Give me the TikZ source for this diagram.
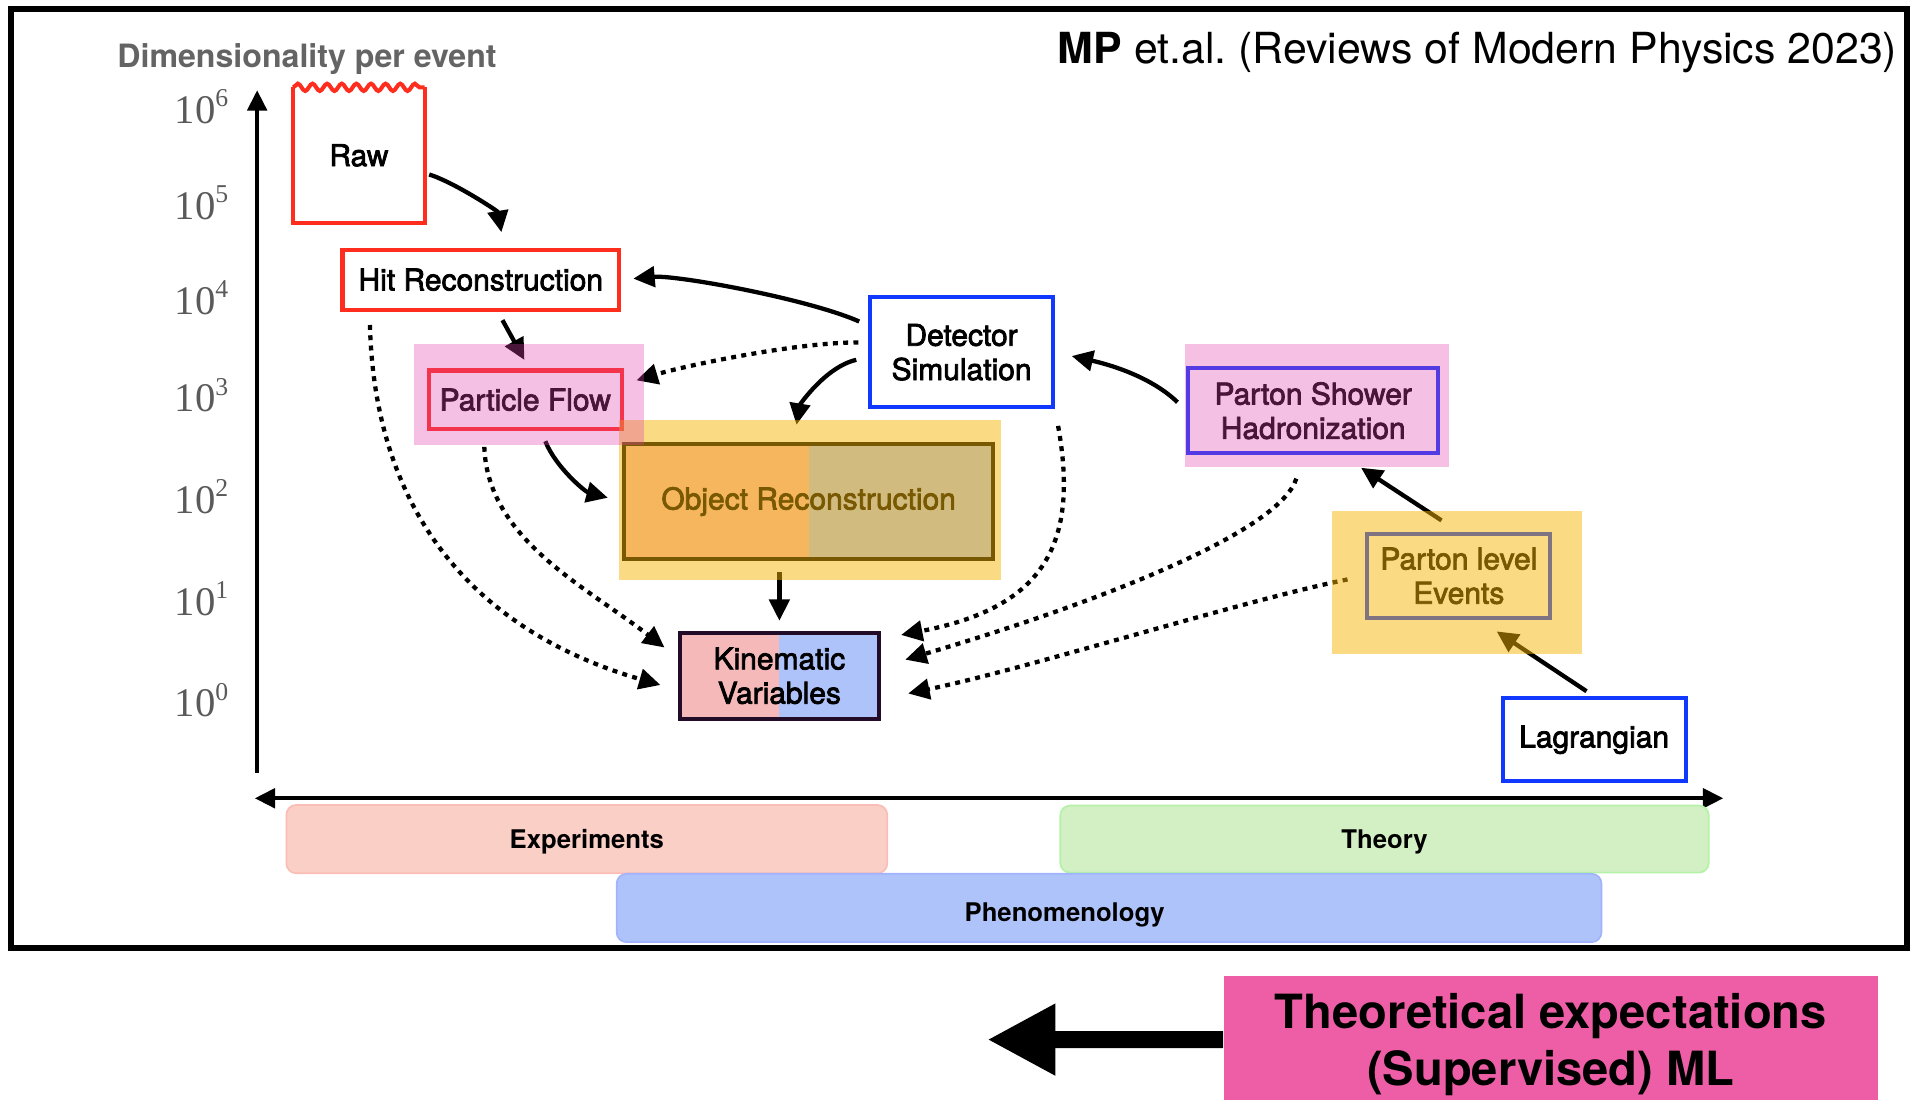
\documentclass[tikz,border=0pt]{standalone}
\usepackage{fontspec}
\setmainfont{TeX Gyre Heros}
\newfontfamily\medfont{TeX Gyre Heros}[FakeBold=2.5]
\newfontfamily\tickfont{Liberation Serif}
\usepackage{tikz}
\usetikzlibrary{arrows.meta,decorations.pathmorphing}

\definecolor{rawred}{RGB}{255,45,30}
\definecolor{simblue}{RGB}{16,56,255}
\definecolor{hlmagenta}{RGB}{224,64,170}
\definecolor{hlorange}{RGB}{245,180,0}
\definecolor{kinred}{RGB}{245,185,185}
\definecolor{kinblue}{RGB}{175,195,251}
\definecolor{kinedge}{RGB}{35,12,40}
\definecolor{exptcol}{RGB}{250,207,198}
\definecolor{theocol}{RGB}{211,240,197}
\definecolor{phencol}{RGB}{175,195,251}
\definecolor{expink}{RGB}{237,94,166}
\definecolor{tickgray}{RGB}{90,90,90}
\definecolor{labgray}{RGB}{100,100,100}

\begin{document}
\begin{tikzpicture}[
  x=0.2mm, y=-0.2mm,
  every node/.style={font=\medfont\fontsize{14}{16}\selectfont},
  box/.style   ={draw, line width=1.9pt, fill=white, inner sep=0pt,
                 align=center},
  redbox/.style ={box, draw=rawred},
  bluebox/.style={box, draw=simblue},
  splitbox/.style={box, path picture={
      \fill[kinred] (path picture bounding box.south west)
                    rectangle (path picture bounding box.north);
      \fill[kinblue] (path picture bounding box.north)
                    rectangle (path picture bounding box.south east);}},
  expo/.style  ={anchor=base west, inner sep=0pt, text=tickgray,
                 font=\tickfont\fontsize{19}{19}\selectfont},
  strip/.style ={rounded corners=1.6mm, inner sep=0pt, line width=0.8pt,
                 minimum height=11.2mm, text depth=0pt,
                 font=\bfseries\fontsize{12}{14}\selectfont},
  striplbl/.style={inner sep=0pt, text depth=0pt,
                 font=\bfseries\fontsize{12}{14}\selectfont},
  hlpink/.style  ={fill=hlmagenta, fill opacity=0.33},
  hlyellow/.style={fill=hlorange, fill opacity=0.49},
  arr/.style   ={-{Triangle[length=10pt,width=9.5pt]}, line width=2pt},
  dotarr/.style={arr, dash pattern=on 2.3pt off 2.5pt},
  axarr/.style ={-{Triangle[length=9.5pt,width=9pt]}, line width=2pt},
  rawline/.style={draw=rawred, line width=1.9pt},
  bigarr/.style={-{Triangle[length=11.2mm,width=11mm]}, line width=2.8mm}
]
\useasboundingbox (0,0) rectangle (1568,902);

\draw[line width=1mm] (9,7.5) rectangle (1565,777.5);

\node[anchor=base east, inner sep=0pt, font=\fontsize{20}{24}\selectfont]
     (cite) at (1557,52) {\textbf{MP} et.al.\ (Reviews of Modern Physics 2023)};
\node[anchor=base west, inner sep=0pt, text=labgray,
      font=\bfseries\fontsize{15}{18}\selectfont]
     (ylabel) at (96,55) {Dimensionality per event};

% axes
\coordinate (ybot) at (211,634);
\coordinate (ytop) at (211,74);
\coordinate (xl) at (209,655);
\coordinate (xr) at (1414,655);
\draw[axarr] (ybot) -- (ytop);
\draw[axarr, {Triangle[length=9.5pt,width=9pt]}-{Triangle[length=9.5pt,width=9pt]}]
     (xl) -- (xr);
\foreach \e/\yb in {6/101,5/180,4/258,3/338,2/421,1/505,0/588}
  \node[expo] (e\e) at (143,\yb)
       {10\raisebox{7.7pt}{\fontsize{12}{12}\selectfont\e}};

\node[strip, fill=exptcol, draw=exptcol!92!red, minimum width=98.6mm]
     (expt) at (481.5,688.5) {Experiments};
\node[strip, fill=theocol, draw=theocol!85!green, minimum width=106.4mm,
      minimum height=11mm] (theo) at (1136,688.5) {Theory};
\node[strip, fill=phencol, draw=phencol!92!blue, minimum width=161.6mm]
     (phen) at (910,745) {};
\node[striplbl] (phenlbl) at (873.5,748.5) {Phenomenology};

% stages
\node[inner sep=0pt, minimum width=21.4mm, minimum height=22.2mm]
     (raw) at (294.5,127.5) {Raw};
\node[redbox, minimum width=45.4mm, minimum height=9.8mm]
     (hit) at (394.5,229.5) {Hit Reconstruction};
\node[redbox, minimum width=31.6mm, minimum height=9.6mm]
     (pflow) at (431,328) {Particle Flow};
\node[bluebox, minimum width=30mm, minimum height=18mm]
     (ds) at (789,289) {Detector\\Simulation};
\node[splitbox, draw=black, minimum width=60.6mm, minimum height=19mm]
     (objrec) at (663.5,411.5) {Object Reconstruction};
\node[splitbox, draw=kinedge, minimum width=32.6mm, minimum height=14.2mm]
     (kin) at (639.5,554.5) {Kinematic\\Variables};
\node[bluebox, minimum width=41mm, minimum height=14mm]
     (psh) at (1077.5,337) {Parton Shower\\Hadronization};
\node[bluebox, minimum width=30mm, minimum height=13.8mm]
     (ple) at (1197,472.5) {Parton level\\Events};
\node[bluebox, minimum width=30mm, minimum height=13.6mm]
     (lag) at (1308,607) {Lagrangian};

\draw[rawline] (raw.north west) -- (raw.south west) -- (raw.south east)
     -- (raw.north east);
\draw[rawline, decorate, decoration={snake, amplitude=0.6mm, segment length=2.4mm}]
     (raw.north west) -- (raw.north east);

% connectors
\draw[arr, shorten <=0.8mm, shorten >=2.6mm]
     (raw.-15) .. controls +(25,8) and +(-5,-30) .. (hit.54);
\draw[arr, shorten <=1.6mm, shorten >=2mm]
     (ds.164) .. controls +(-50,-22) and +(45,-4) .. (hit.east);
\draw[arr, shorten <=1.6mm, shorten >=1.6mm] (hit.-62) -- (pflow.83);
\draw[dotarr, shorten <=1.6mm, shorten >=2.2mm]
     (ds.174) .. controls +(-60,0) and +(50,-15) .. (pflow.9);
\draw[arr, shorten <=2mm, shorten >=2.8mm]
     (ds.183) .. controls +(-35,8) and +(5,-30) .. (objrec.104);
\draw[arr, shorten <=1.8mm, shorten >=2.4mm]
     (pflow.-63) .. controls +(12,30) and +(-30,-8) .. (objrec.west);
\draw[arr, shorten <=1.8mm, shorten >=1.6mm] (kin.north |- objrec.south) -- (kin.north);
\draw[dotarr, shorten <=2.2mm, shorten >=3mm]
     (hit.-164) .. controls +(5,191) and +(-139,-40) .. (kin.188);
\draw[dotarr, shorten <=2.6mm, shorten >=2.8mm]
     (pflow.-143) .. controls +(3,88) and +(-78,-60) .. (kin.170);
\draw[dotarr, shorten <=2.8mm, shorten >=3.4mm]
     (ds.south east) .. controls +(21,116) and +(129,-25) .. (kin.20);
\draw[dotarr, shorten <=4mm, shorten >=4.2mm]
     (psh.-102) .. controls +(-20,63) and +(179,-53) .. (kin.5);
\draw[dotarr, shorten <=3mm, shorten >=4.6mm]
     (ple.west) .. controls +(-100,20) and +(120,-25) .. (kin.-13);
\draw[arr, shorten <=3.4mm, shorten >=3.7mm] (ple.north) -- (psh.-57);
\draw[arr, shorten <=1.5mm, shorten >=3.4mm] (lag.north) -- (ple.-65);
\draw[arr, shorten <=2mm, shorten >=2.8mm]
     (psh.west) .. controls +(-32,-31) and +(35,8) .. (ds.east);

% highlights
\fill[hlyellow] (508,345) rectangle (821,476);
\fill[hlpink] (340,282) rectangle (528,365);
\fill[hlpink] (972,282) rectangle (1189,383);
\fill[hlyellow] (1093,419) rectangle (1298,537);

% bottom note
\node[fill=expink, inner sep=0pt, align=center, minimum width=107.4mm,
      minimum height=22.4mm, font=\bfseries\fontsize{22}{26.7}\selectfont]
     (expbox) at (1272.5,857) {Theoretical expectations\\(Supervised) ML};
\coordinate (mltip) at (810,853);
\draw[bigarr] ([yshift=0.8mm]expbox.west) -- (mltip);

\end{tikzpicture}
\end{document}
